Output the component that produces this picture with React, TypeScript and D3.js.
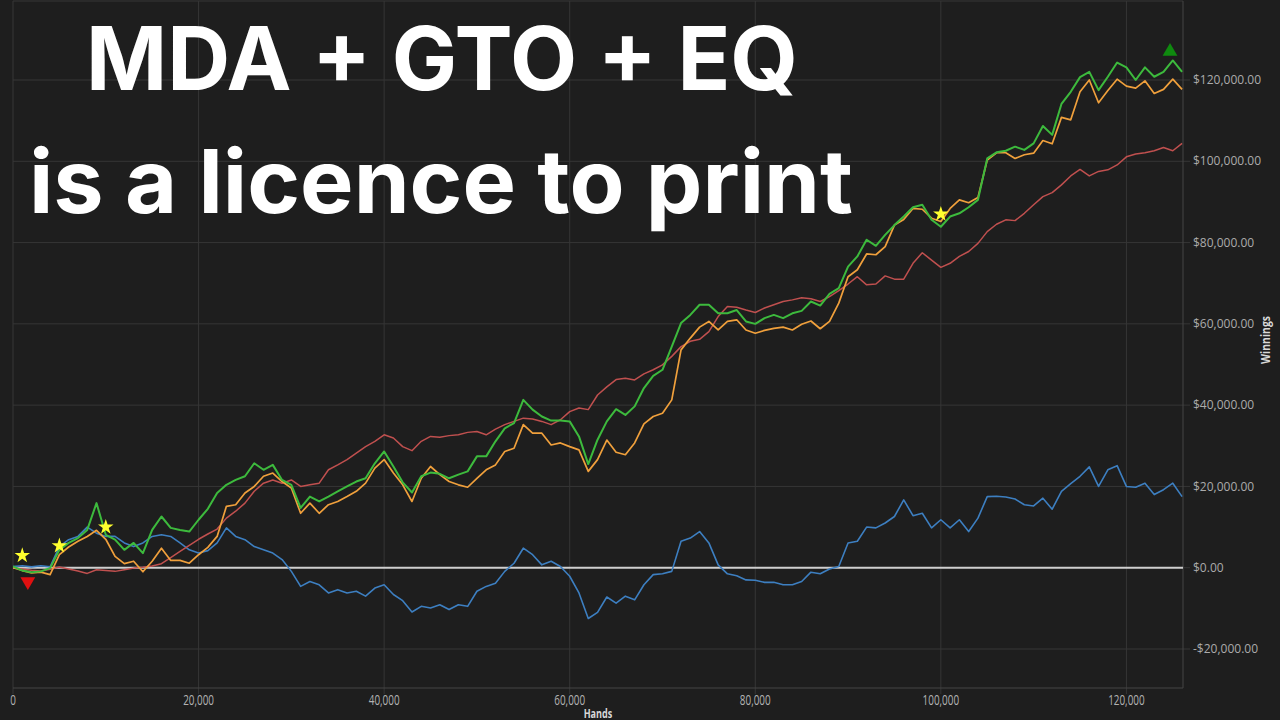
import React from 'react';
import * as d3 from 'd3';

// hands played, one sample every 1,000 hands
const hands = d3.range(0, 127000, 1000);

// winnings in $1,000s
const netWonK = [
  0.3, -0.7, -1.1, -0.9, -0.1, 4.4, 6.1, 7.3, 9.3, 15.9,
  8.1, 6.9, 4.4, 6.1, 3.6, 9.3, 12.6, 9.8, 9.3, 8.9,
  11.8, 14.5, 18.4, 20.4, 21.6, 22.5, 25.7, 24.1, 25.3, 21.6,
  20.4, 14.7, 17.5, 16.3, 17.5, 18.8, 20.0, 21.2, 22.0, 25.7,
  28.6, 24.9, 21.0, 18.5, 22.5, 23.4, 23.1, 22.0, 22.9, 23.7,
  27.4, 27.4, 31.1, 34.3, 35.6, 41.3, 38.9, 37.2, 36.2, 36.2,
  36.0, 32.3, 25.5, 31.5, 36.0, 39.0, 37.6, 39.7, 44.2, 47.2,
  48.7, 54.4, 60.2, 62.2, 64.7, 64.7, 62.6, 62.6, 63.4, 60.6,
  60.0, 61.4, 62.2, 61.4, 62.6, 63.2, 65.5, 64.5, 67.4, 68.8,
  74.1, 76.6, 80.7, 79.2, 81.9, 84.3, 86.4, 88.7, 89.3, 85.6,
  83.9, 86.4, 87.2, 88.7, 90.5, 100.7, 102.2, 102.6, 103.6, 102.8,
  104.4, 108.7, 106.5, 114.1, 117.1, 120.7, 122.0, 117.5, 120.8, 124.3,
  123.1, 120.0, 123.1, 120.8, 122.0, 124.8, 122.0,
];

const allInAdjK = [
  0, -0.7, -1.3, -1.1, -1.7, 3.2, 5.1, 6.5, 7.7, 9.2,
  7.0, 2.8, 1.0, 1.6, -1.0, 1.6, 4.8, 1.8, 1.8, 1.1,
  3.2, 5.0, 7.7, 15.1, 15.5, 18.4, 20.0, 22.5, 23.3, 21.2,
  19.6, 13.4, 15.9, 13.4, 15.5, 16.3, 17.5, 18.8, 20.8, 24.5,
  26.6, 23.3, 20.4, 16.3, 22.0, 24.9, 22.9, 21.2, 20.4, 19.8,
  22.0, 24.1, 25.3, 28.6, 29.4, 35.2, 33.1, 33.1, 30.2, 30.7,
  29.8, 29.0, 23.7, 26.6, 31.4, 28.4, 27.8, 30.7, 35.4, 37.2,
  38.0, 41.3, 53.6, 56.5, 59.2, 60.6, 58.5, 60.6, 61.0, 58.5,
  57.7, 58.4, 58.9, 59.2, 58.5, 59.9, 60.7, 58.8, 60.6, 65.1,
  71.6, 73.3, 77.2, 77.0, 79.0, 84.3, 85.7, 88.4, 88.2, 86.0,
  85.2, 88.4, 90.5, 89.8, 91.1, 100.3, 102.1, 102.1, 100.7, 101.6,
  102.0, 105.1, 104.3, 110.8, 110.2, 117.1, 120.0, 114.4, 117.4, 120.2,
  118.5, 118.0, 119.8, 116.7, 117.7, 120.2, 117.7,
];

const nonShowdownK = [
  0, -0.3, -0.6, -0.8, -0.4, 0.2, -0.3, -0.8, -1.4, -0.5,
  -0.7, -0.9, -0.5, -0.1, 0.1, 0.4, 1.0, 2.5, 4.0, 5.5,
  7.0, 8.3, 9.5, 12.2, 13.9, 15.9, 18.8, 20.8, 21.6, 20.8,
  21.6, 20.0, 20.4, 20.8, 24.1, 25.3, 26.6, 28.2, 29.8, 31.1,
  32.7, 31.9, 29.8, 28.8, 31.1, 32.3, 32.1, 32.5, 32.7, 33.3,
  33.5, 32.7, 34.1, 35.2, 36.0, 36.8, 36.6, 36.0, 35.2, 36.4,
  38.4, 39.3, 38.9, 42.5, 44.5, 46.3, 46.6, 46.2, 47.7, 48.7,
  49.9, 52.0, 54.4, 55.7, 56.2, 58.1, 61.8, 64.3, 64.1, 63.4,
  62.8, 63.9, 64.7, 65.5, 65.9, 66.4, 66.2, 65.5, 66.7, 68.2,
  69.8, 71.6, 69.6, 69.8, 71.8, 71.0, 71.0, 74.9, 77.5, 75.7,
  73.9, 74.9, 76.6, 77.8, 79.8, 82.7, 84.5, 85.6, 85.4, 87.2,
  89.3, 91.3, 92.3, 94.2, 96.4, 98.0, 96.4, 97.5, 97.9, 99.1,
  101.1, 101.8, 102.1, 102.6, 103.4, 102.6, 104.4,
];

const showdownK = [
  0.3, 0.5, 0.2, 0.5, 0.2, 5.2, 6.9, 7.7, 10.0, 8.5,
  7.7, 7.7, 6.1, 5.2, 6.1, 7.7, 8.1, 7.7, 6.1, 4.4,
  3.6, 4.2, 6.1, 9.8, 7.7, 6.9, 5.2, 4.4, 3.6, 2.0,
  -0.9, -4.6, -3.4, -4.2, -6.2, -5.4, -6.2, -5.8, -7.0, -5.0,
  -4.2, -6.6, -8.1, -10.9, -9.5, -9.9, -9.1, -10.3, -9.1, -9.5,
  -5.8, -4.6, -3.8, -0.9, 1.1, 4.8, 3.2, 0.7, 1.6, 0.3,
  -2.1, -6.2, -12.5, -11.0, -7.2, -8.7, -7.0, -7.9, -4.2, -1.7,
  -1.5, -0.9, 6.5, 7.3, 8.9, 6.1, 0.7, -1.5, -2.0, -3.0,
  -3.1, -3.6, -3.6, -4.2, -4.2, -3.4, -1.1, -1.5, -0.3, 0.3,
  6.1, 6.5, 10.0, 9.8, 11.0, 12.6, 16.7, 12.8, 13.4, 9.8,
  11.8, 9.8, 11.8, 8.9, 12.2, 17.5, 17.6, 17.4, 16.9, 15.5,
  15.2, 17.1, 14.4, 18.8, 20.7, 22.5, 24.8, 20.0, 24.1, 25.1,
  20.0, 19.8, 20.8, 18.0, 19.2, 20.8, 17.5,
];

const xTicks = [0, 20000, 40000, 60000, 80000, 100000, 120000];
const yTicks = [-20000, 0, 20000, 40000, 60000, 80000, 100000, 120000];

// milestone stars, session low and high markers
const starHands = [1000, 5000, 10000, 100000];
const starWon = [3000, 5400, 10000, 87000];
const lowHand = 1600;
const lowWon = -3400;
const highHand = 124700;
const highWon = 127000;

const titleLines = ['MDA + GTO + EQ', 'is a licence to print'];

const series = [
  { name: 'Showdown', values: showdownK, color: '#3d7fc1', width: 1.6 },
  { name: 'Non-showdown', values: nonShowdownK, color: '#c0504f', width: 1.5 },
  { name: 'All-in adj', values: allInAdjK, color: '#f0a03c', width: 1.7 },
  { name: 'Net won', values: netWonK, color: '#3dba3d', width: 2 },
];

const fmtMoney = (v: number) => (v < 0 ? '-' : '') + '$' + d3.format(',.2f')(Math.abs(v));

export default function App() {
  const left = 13, right = 1183, top = 1, bottom = 688;
  const x = d3.scaleLinear().domain([0, 126100]).range([left, right]);
  const y = d3.scaleLinear().domain([-20000, 120000]).range([649, 80]);

  const line = d3.line<number>()
    .x((d, i) => x(hands[i]))
    .y(d => y(d * 1000));

  const star = d3.symbol().type(d3.symbolStar).size(75)();
  const tri = d3.symbol().type(d3.symbolTriangle).size(95)();

  const grid = '#363636';
  const tickFont = "'Open Sans', 'Noto Sans', sans-serif";

  return (
    <svg width={1280} height={720} style={{ position: 'absolute', left: 0, top: 0 }}>
      <rect width={1280} height={720} fill="#1e1e1e" />
      <defs>
        <clipPath id="plot">
          <rect x={left} y={top} width={right - left} height={bottom - top} />
        </clipPath>
      </defs>

      {/* grid */}
      {yTicks.map(t => (
        <g key={'y' + t}>
          <line x1={left} x2={right + 7} y1={y(t)} y2={y(t)} stroke={grid} />
          <text x={1193} y={y(t)} dy="0.35em" fill="#ababab" fontSize={12} fontFamily={tickFont}>
            {fmtMoney(t)}
          </text>
        </g>
      ))}
      {xTicks.map(t => (
        <g key={'x' + t}>
          <line x1={x(t)} x2={x(t)} y1={top} y2={bottom + 6} stroke={grid} />
          <g transform={`translate(${x(t)},705) scale(0.66,1)`}>
            <text textAnchor="middle" fill="#b2b2b2" fontSize={15} fontFamily={tickFont}>
              {d3.format(',')(t)}
            </text>
          </g>
        </g>
      ))}
      <line x1={left} x2={right} y1={top} y2={top} stroke={grid} />
      <line x1={left} x2={right} y1={bottom} y2={bottom} stroke="#444" />
      <line x1={right} x2={right} y1={top} y2={bottom} stroke="#444" />

      {/* zero line */}
      <line x1={left} x2={right} y1={y(0)} y2={y(0)} stroke="#cfcfcf" strokeWidth={2} />

      <g clipPath="url(#plot)" fill="none" strokeLinejoin="round">
        {series.map(s => (
          <path key={s.name} d={line(s.values) || ''} stroke={s.color} strokeWidth={s.width} />
        ))}
      </g>

      {/* markers */}
      {starHands.map((h, i) => (
        <path key={'s' + i} d={star} transform={`translate(${x(h)},${y(starWon[i])})`} fill="#ffff2e" />
      ))}
      <path d={tri} transform={`translate(${x(lowHand)},${y(lowWon)}) rotate(180)`} fill="#e01010" />
      <path d={tri} transform={`translate(${x(highHand)},${y(highWon)})`} fill="#0f8a0f" />

      {/* axis titles */}
      <g transform="translate(1270,340) rotate(-90) scale(0.8,1)">
        <text textAnchor="middle" fill="#d8d8d8" fontSize={13} fontWeight="bold" fontFamily={tickFont}>
          Winnings
        </text>
      </g>
      <g transform={`translate(${(left + right) / 2},718) scale(0.7,1)`}>
        <text textAnchor="middle" fill="#d8d8d8" fontSize={13} fontWeight="bold" fontFamily={tickFont}>
          Hands
        </text>
      </g>

      {/* headline */}
      <text x={86} y={90} fill="#ffffff" fontSize={88} fontWeight={700}
        fontFamily="Inter, 'Open Sans', sans-serif" textLength={712} lengthAdjust="spacingAndGlyphs">
        {titleLines[0]}
      </text>
      <text x={29} y={213} fill="#ffffff" fontSize={88} fontWeight={700}
        fontFamily="Inter, 'Open Sans', sans-serif" textLength={824} lengthAdjust="spacingAndGlyphs">
        {titleLines[1]}
      </text>
    </svg>
  );
}
